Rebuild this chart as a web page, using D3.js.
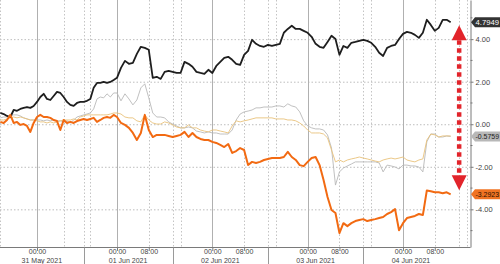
<!DOCTYPE html>
<html>
<head>
<meta charset="utf-8">
<script src="https://cdn.jsdelivr.net/npm/d3@7"></script>
<style>
  body { margin: 0; background: #fff; }
  #chart svg { display: block; font-family: "Liberation Sans", Arial, sans-serif; }
</style>
</head>
<body>
<div id="chart"></div>
<script>
// hourly samples, the first one is 30 May 13:00
const startTime = new Date(2021, 4, 30, 13);

const blackSeries = [
    0.53,0.48,0.39,0.34,0.67,0.63,0.72,0.77,0.81,0.77,0.86,1.05,
    1.28,1.43,1.19,1.14,1.33,1.52,1.47,1.28,1.05,0.91,0.86,1.00,
    1.05,1.05,1.10,1.19,1.71,1.94,1.94,1.99,1.94,1.99,2.08,2.18,
    2.65,2.98,2.84,2.88,3.31,3.64,3.59,3.50,2.18,2.23,2.13,2.46,
    2.51,2.46,2.41,2.41,2.93,2.84,2.70,2.46,2.41,2.37,2.56,2.41,
    2.74,2.93,3.12,3.17,3.03,2.84,2.79,3.26,3.45,3.97,3.78,3.68,
    3.64,3.73,3.68,3.73,3.78,4.30,4.48,4.63,4.48,4.48,4.39,4.30,
    4.11,3.78,3.64,3.59,3.87,4.16,4.01,3.26,3.68,3.59,3.83,3.87,
    3.92,3.97,3.92,3.83,3.64,3.36,3.21,3.59,3.68,3.73,4.01,4.25,
    4.34,4.30,4.20,4.06,4.30,4.91,4.67,4.39,4.53,4.91,4.91,4.7949
];
const orangeSeries = [
    0.11,0.06,0.20,0.44,0.06,0.11,-0.03,0.01,-0.08,-0.36,0.06,0.34,
    0.44,0.34,0.34,0.30,0.20,0.15,-0.27,0.20,0.06,0.11,0.06,0.15,
    0.20,0.25,0.20,0.25,0.30,0.11,0.20,0.30,0.34,0.30,0.44,0.34,
    0.06,-0.03,-0.17,-0.41,-0.74,-0.41,0.44,-0.27,-0.60,-0.50,-0.50,-0.50,
    -0.55,-0.60,-0.55,-0.50,-0.36,-0.60,-0.41,-0.60,-0.69,-0.74,-0.74,-0.83,
    -0.88,-0.97,-1.07,-0.93,-1.35,-1.26,-1.12,-1.21,-1.92,-1.77,-1.82,-1.77,
    -1.68,-1.63,-1.59,-1.59,-1.59,-1.54,-1.30,-1.54,-1.68,-1.92,-1.97,-1.77,
    -1.59,-1.54,-1.92,-2.62,-3.42,-4.03,-4.17,-5.12,-4.65,-4.79,-4.65,-4.55,
    -4.50,-4.46,-4.55,-4.50,-4.46,-4.41,-4.36,-4.22,-4.13,-3.99,-4.98,-4.65,
    -4.41,-4.36,-4.31,-4.22,-4.27,-3.11,-3.15,-3.20,-3.20,-3.24,-3.20,-3.2923
];
const greySeries = [
    0.30,0.34,0.34,0.39,0.44,0.44,0.39,0.30,0.25,0.20,0.20,0.20,
    0.20,0.16,0.20,0.16,0.20,0.16,0.16,0.11,0.16,0.06,0.20,0.34,
    0.39,0.44,0.48,0.53,0.72,1.19,1.28,1.24,1.43,1.28,1.47,1.47,
    1.10,1.43,1.19,0.91,1.14,1.71,1.90,1.24,0.53,0.34,0.34,0.30,
    0.11,0.01,-0.08,-0.17,-0.17,-0.13,-0.17,-0.32,-0.36,-0.41,-0.36,-0.41,
    -0.41,-0.46,-0.46,-0.46,-0.27,0.20,0.48,0.58,0.62,0.67,0.77,0.77,
    0.81,0.81,0.81,0.86,0.86,0.81,0.96,0.86,0.81,0.58,0.16,-0.08,
    -0.17,-0.22,-0.22,-0.27,-0.50,-1.12,-2.86,-2.24,-2.06,-1.96,-1.87,-1.77,
    -1.77,-1.77,-1.77,-1.77,-1.77,-1.82,-2.24,-1.92,-1.96,-2.01,-2.10,-1.92,
    -1.92,-1.96,-1.96,-2.01,-2.24,-0.83,-0.46,-0.46,-0.60,-0.60,-0.55,-0.5759
];
const goldSeries = [
    0.20,0.20,0.25,0.30,0.34,0.30,0.34,0.30,0.25,0.20,0.20,0.16,
    0.11,0.11,0.06,0.11,0.06,0.11,0.16,0.20,0.20,0.20,0.25,0.20,
    0.34,0.39,0.44,0.44,0.44,0.44,0.44,0.44,0.44,0.48,0.53,0.53,
    0.48,0.34,0.30,0.30,0.16,0.11,0.44,0.20,0.06,0.01,0.01,0.11,
    0.06,-0.03,-0.13,-0.17,-0.17,-0.03,-0.17,-0.17,-0.27,-0.32,-0.36,-0.27,
    -0.27,-0.32,-0.36,-0.41,-0.08,0.16,0.11,0.16,0.20,0.25,0.30,0.30,
    0.30,0.30,0.30,0.25,0.25,0.25,0.20,0.20,0.16,0.06,-0.08,-0.27,
    -0.41,-0.41,-0.41,-0.46,-0.64,-1.21,-1.77,-1.68,-1.77,-1.68,-1.63,-1.59,
    -1.54,-1.59,-1.63,-1.68,-1.73,-1.77,-1.68,-1.63,-1.59,-1.63,-1.59,-1.54,
    -1.68,-1.73,-1.77,-1.68,-1.63,-0.74,-0.46,-0.50,-0.60,-0.55,-0.55,-0.55
];

const yTicks = [-4, -2, 0, 2, 4];
const yMinorTicks = [-5, -3, -1, 1, 3, 5];
const days = [new Date(2021, 4, 31), new Date(2021, 5, 1), new Date(2021, 5, 2), new Date(2021, 5, 3), new Date(2021, 5, 4)];
const dayLabels = ["31 May 2021", "01 Jun 2021", "02 Jun 2021", "03 Jun 2021", "04 Jun 2021"];
const lastLabels = ["4.7949", "-0.5759", "-3.2923"];

const Chart = (function(d3) {
    const svgWidth = 500, svgHeight = 264;
    const plotRight = 470, plotBottom = 247;
    const fontSize = "7px";

    const svg = d3.select("#chart").append("svg")
        .attr("width", svgWidth)
        .attr("height", svgHeight);

    // x: 31 May is squeezed, so a piecewise time scale
    const x = d3.scaleTime()
        .domain([days[0], days[1], days[4]])
        .range([37, 117, 403]);
    const y = d3.scaleLinear()
        .domain([-5.77, 5.84])
        .range([plotBottom, 0]);

    const timeAt = i => d3.timeHour.offset(startTime, i);
    const at = (day, h) => d3.timeHour.offset(day, h);

    // grid
    const grid = svg.append("g");
    grid.selectAll(".hgrid").data(yTicks).join("line")
        .attr("x1", 0).attr("x2", plotRight)
        .attr("y1", d => y(d) + 0.5).attr("y2", d => y(d) + 0.5)
        .attr("stroke", "#bdbdbd").attr("stroke-dasharray", "1.5,2");

    let dotted = [];
    days.forEach(d => { dotted.push(at(d, 8), at(d, 14), at(d, 16)); });
    grid.selectAll(".vdot").data(dotted).join("line")
        .attr("x1", d => Math.round(x(d)) + 0.5).attr("x2", d => Math.round(x(d)) + 0.5)
        .attr("y1", 0).attr("y2", plotBottom)
        .attr("stroke", "#c4c4c4").attr("stroke-dasharray", "1.5,2");
    grid.append("line")
        .attr("x1", 0.5).attr("x2", 0.5).attr("y1", 0).attr("y2", plotBottom)
        .attr("stroke", "#c4c4c4").attr("stroke-dasharray", "1.5,2");
    grid.selectAll(".vsolid").data(days).join("line")
        .attr("x1", d => Math.round(x(d)) + 0.5).attr("x2", d => Math.round(x(d)) + 0.5)
        .attr("y1", 0).attr("y2", plotBottom)
        .attr("stroke", "#b0b0b0").attr("stroke-width", 1);

    // series
    const line = d3.line()
        .x((d, i) => x(timeAt(i)))
        .y(d => y(d));

    const series = [
        { values: greySeries, color: "#b9b9b9", width: 0.9 },
        { values: goldSeries, color: "#e9c27a", width: 0.9 },
        { values: blackSeries, color: "#1e1e1e", width: 1.8 },
        { values: orangeSeries, color: "#f26a12", width: 2 }
    ];
    svg.append("g").selectAll("path").data(series).join("path")
        .attr("d", d => line(d.values))
        .attr("fill", "none")
        .attr("stroke", d => d.color)
        .attr("stroke-width", d => d.width)
        .attr("stroke-linejoin", "round");

    // right axis
    const yAxis = d3.axisRight(y)
        .tickValues(yTicks)
        .tickFormat(d => d.toFixed(2))
        .tickSize(3)
        .tickSizeOuter(0)
        .tickPadding(2);
    const yg = svg.append("g")
        .attr("transform", `translate(${plotRight + 0.5},0)`)
        .call(yAxis);
    yg.append("g").selectAll("line").data(yMinorTicks).join("line")
        .attr("x1", 0).attr("x2", 2)
        .attr("y1", d => y(d)).attr("y2", d => y(d))
        .attr("stroke", "#777");

    // bottom axis
    let xTicks = [days[0]];
    days.slice(1).forEach(d => { xTicks.push(d, at(d, 8)); });
    const xAxis = d3.axisBottom(x)
        .tickValues(xTicks)
        .tickFormat(d3.timeFormat("%H:%M"))
        .tickSize(3)
        .tickSizeOuter(0);
    const xg = svg.append("g")
        .attr("transform", `translate(0,${plotBottom + 0.5})`)
        .call(xAxis);
    xg.select(".domain").attr("d", `M0,0H${plotRight + 0.5}`);
    xg.selectAll(".tick text").attr("y", 2);

    [yg, xg].forEach(g => {
        g.select(".domain").attr("stroke", "#7a7a7a");
        g.selectAll(".tick line").attr("stroke", "#7a7a7a");
        g.selectAll(".tick text")
            .attr("fill", "#444")
            .style("font-size", fontSize)
            .style("font-family", "'Liberation Sans', Arial, sans-serif");
    });
    yg.selectAll(".tick text").style("font-size", "7.5px");

    // day separators and date labels
    const seps = days.map(d => x(at(d, 14)));
    xg.selectAll(".sep").data(seps.slice(0, 4)).join("line")
        .attr("x1", d => Math.round(d) + 0.5).attr("x2", d => Math.round(d) + 0.5)
        .attr("y1", 0).attr("y2", 18)
        .attr("stroke", "#9a9a9a");
    const cells = dayLabels.map((t, i) => {
        const left = i === 0 ? 0 : seps[i - 1];
        return { text: t, cx: (left + seps[i]) / 2 };
    });
    xg.selectAll(".date").data(cells).join("text")
        .attr("x", d => d.cx)
        .attr("y", 15.3)
        .attr("text-anchor", "middle")
        .attr("fill", "#444")
        .style("font-size", fontSize)
        .text(d => d.text);

    // last value tags
    const n = blackSeries.length - 1;
    const tags = [
        { v: blackSeries[n], label: lastLabels[0], fill: "#333", text: "#fff" },
        { v: greySeries[n], label: lastLabels[1], fill: "#b8b8b8", text: "#222" },
        { v: orangeSeries[n], label: lastLabels[2], fill: "#f07322", text: "#2a1000" }
    ];
    const tg = svg.append("g").selectAll("g").data(tags).join("g")
        .attr("transform", d => `translate(${plotRight + 1},${y(d.v)})`);
    tg.append("path")
        .attr("d", "M0,0L4,-5H29V5H4Z")
        .attr("fill", d => d.fill);
    tg.append("text")
        .attr("x", 4.5)
        .attr("y", 2.6)
        .attr("fill", d => d.text)
        .attr("textLength", 23.5)
        .attr("lengthAdjust", "spacingAndGlyphs")
        .style("font-size", "7.5px")
        .text(d => d.label);

    // red double arrow between the black and orange endings
    const ax = x(timeAt(n)) + 8.5;
    const yTop = y(blackSeries[n]) + 3;
    const yBot = y(orangeSeries[n]) - 4;
    const arrow = svg.append("g");
    arrow.append("line")
        .attr("x1", ax).attr("x2", ax)
        .attr("y1", yTop + 15).attr("y2", yBot - 15)
        .attr("stroke", "#e2242b")
        .attr("stroke-width", 4.5)
        .attr("stroke-dasharray", "4.5,3.5");
    arrow.append("path")
        .attr("d", `M${ax},${yTop}L${ax + 7.5},${yTop + 15}H${ax - 7.5}Z`)
        .attr("fill", "#e2242b");
    arrow.append("path")
        .attr("d", `M${ax},${yBot}L${ax + 7.5},${yBot - 15}H${ax - 7.5}Z`)
        .attr("fill", "#e2242b");

    return { svg: svg };
})(d3);
</script>
</body>
</html>
